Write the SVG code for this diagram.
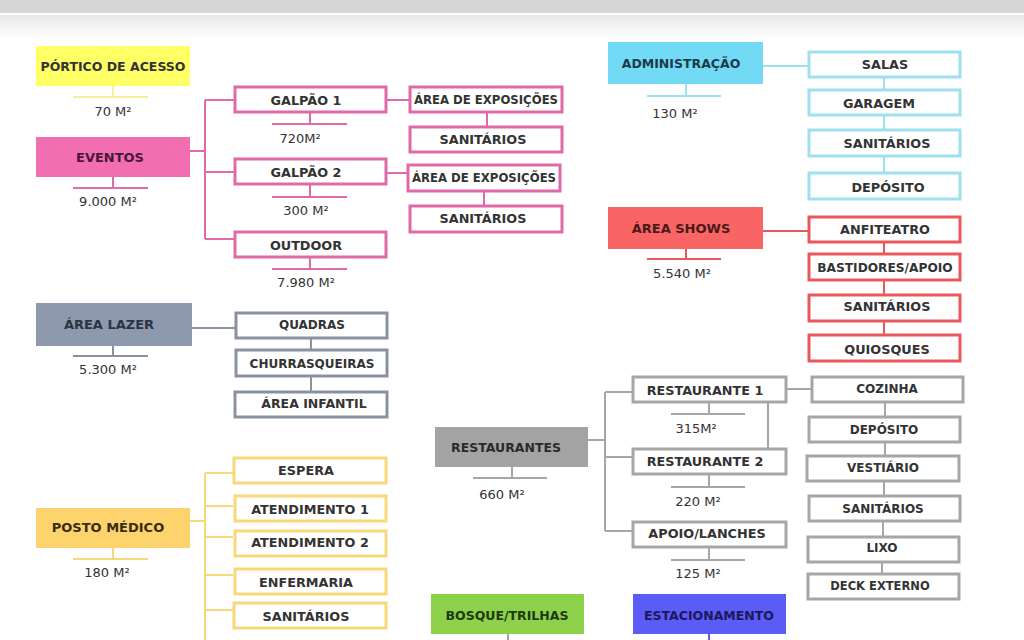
<svg xmlns="http://www.w3.org/2000/svg" width="1024" height="640" viewBox="0 0 1024 640">
<defs>
<linearGradient id="topfade" x1="0" y1="0" x2="0" y2="1">
<stop offset="0" stop-color="#e9e9e9"/>
<stop offset="1" stop-color="#ffffff"/>
</linearGradient>
</defs>
<style>
.lbl{font-family:"DejaVu Sans",Verdana,sans-serif;font-weight:bold;font-size:12.8px;text-anchor:middle;dominant-baseline:central;fill:#333}
.hd{font-family:"DejaVu Sans",Verdana,sans-serif;font-weight:bold;font-size:12.5px;text-anchor:middle;dominant-baseline:central}
.area{font-family:"DejaVu Sans",Verdana,sans-serif;font-size:13px;text-anchor:middle;fill:#333}
.sub{fill:#fff;stroke-width:3}
.pink{stroke:#e06aa8}
.blue{stroke:#9de0ef}
.red{stroke:#e9585c}
.gray{stroke:#8a929f}
.yel{stroke:#f7d87a}
.rgray{stroke:#a6a6a6}
.c{fill:none;stroke-width:2}
</style>
<rect x="0" y="0" width="1024" height="13" fill="#d6d6d6"/>
<rect x="0" y="15" width="1024" height="24" fill="url(#topfade)"/>

<g id="connectors">
<path class="c" stroke="#f5f09a" d="M113 86V97M73 97H148"/>
<path class="c" stroke="#e06aa8" d="M113 177V188M73 188H148M190 151H205M205 100V239M205 100H234M205 172H234M205 239H234M310 113V124M272 124H347M310 184V197M272 197H347M310 258V269M272 269H347M387 100H410M487 113V127M387 173H408M484 192V206"/>
<path class="c" stroke="#9de0ef" d="M686 84V96M647 96H721M763 66H808M884 77V90M884 115V130M884 156V173"/>
<path class="c" stroke="#e9585c" d="M686 249V259M647 259H721M763 231H808M884 242V254M884 280V295M884 321V335"/>
<path class="c" stroke="#8a929f" d="M113 346V356M73 356H148M192 328H235M311 339V350M311 377V392"/>
<path class="c" stroke="#f7d87a" d="M113 548V559M73 559H148M190 521H205M205 473V640M205 473H233M205 506H233M205 537H233M205 575H233M205 610H233"/>
<path class="c" stroke="#a6a6a6" d="M512 467V478M473 478H547M588 440H605M605 392V531M605 392H632M605 457H632M605 531H632M709 403V414M671 414H745M709 475V487M671 487H745M709 548V560M671 560H745M768 403V449M787 389H812M885 403V417M885 443V456M884 482V496M883 522V537M882 563V574"/>
<path class="c" stroke="#a6a6a6" d="M508 634V640"/>
<path class="c" stroke="#5b5bf0" d="M709 634V640"/>
</g>

<g id="portico">
<rect x="36" y="46" width="154" height="40" fill="#ffff66"/>
<text class="hd" x="113" y="66" fill="#333">PÓRTICO DE ACESSO</text>
<text class="area" x="113" y="116">70 M²</text>
</g>

<g id="eventos">
<rect x="36" y="137" width="154" height="40" fill="#f16fb0"/>
<text class="hd" x="110" y="157" fill="#4a1538" style="font-size:13px">EVENTOS</text>
<text class="area" x="108" y="206">9.000 M²</text>
</g>
<g id="galpao1">
<rect class="sub pink" x="235" y="87" width="151" height="25"/>
<text class="lbl" x="306" y="100">GALPÃO 1</text>
<text class="area" x="300" y="143">720M²</text>
</g>
<g id="galpao2">
<rect class="sub pink" x="235" y="159" width="151" height="25"/>
<text class="lbl" x="306" y="172">GALPÃO 2</text>
<text class="area" x="306" y="215">300 M²</text>
</g>
<g id="outdoor">
<rect class="sub pink" x="235" y="232" width="151" height="25"/>
<text class="lbl" x="306" y="245">OUTDOOR</text>
<text class="area" x="306" y="287">7.980 M²</text>
</g>
<g id="expo1">
<rect class="sub pink" x="410" y="87" width="152" height="25"/>
<text class="lbl" x="486" y="100" style="font-size:11.7px">ÁREA DE EXPOSIÇÕES</text>
</g>
<g id="sanit1">
<rect class="sub pink" x="410" y="127" width="152" height="25"/>
<text class="lbl" x="483" y="139">SANITÁRIOS</text>
</g>
<g id="expo2">
<rect class="sub pink" x="408" y="165" width="152" height="26"/>
<text class="lbl" x="484" y="178" style="font-size:11.7px">ÁREA DE EXPOSIÇÕES</text>
</g>
<g id="sanit2">
<rect class="sub pink" x="410" y="206" width="152" height="26"/>
<text class="lbl" x="483" y="218">SANITÁRIOS</text>
</g>

<g id="administracao">
<rect x="608" y="42" width="155" height="42" fill="#72daf5"/>
<text class="hd" x="681" y="63" fill="#1d3a4a">ADMINISTRAÇÃO</text>
<text class="area" x="675" y="118">130 M²</text>
</g>
<g id="salas">
<rect class="sub blue" x="809" y="52" width="151" height="25"/>
<text class="lbl" x="885" y="64">SALAS</text>
</g>
<g id="garagem">
<rect class="sub blue" x="809" y="90" width="151" height="25"/>
<text class="lbl" x="879" y="103">GARAGEM</text>
</g>
<g id="sanit-adm">
<rect class="sub blue" x="809" y="130" width="151" height="26"/>
<text class="lbl" x="887" y="143">SANITÁRIOS</text>
</g>
<g id="deposito-adm">
<rect class="sub blue" x="809" y="173" width="151" height="26"/>
<text class="lbl" x="888" y="187">DEPÓSITO</text>
</g>

<g id="area-shows">
<rect x="608" y="207" width="155" height="42" fill="#f96464"/>
<text class="hd" x="681" y="228" fill="#4a1a1a" style="font-size:13px">ÁREA SHOWS</text>
<text class="area" x="682" y="278">5.540 M²</text>
</g>
<g id="anfiteatro">
<rect class="sub red" x="809" y="217" width="151" height="25"/>
<text class="lbl" x="885" y="229">ANFITEATRO</text>
</g>
<g id="bastidores">
<rect class="sub red" x="809" y="254" width="151" height="26"/>
<text class="lbl" x="885" y="268" style="font-size:12.2px">BASTIDORES/APOIO</text>
</g>
<g id="sanit-shows">
<rect class="sub red" x="809" y="295" width="151" height="26"/>
<text class="lbl" x="887" y="306">SANITÁRIOS</text>
</g>
<g id="quiosques">
<rect class="sub red" x="809" y="335" width="151" height="26"/>
<text class="lbl" x="887" y="349">QUIOSQUES</text>
</g>

<g id="area-lazer">
<rect x="36" y="303" width="156" height="43" fill="#8e99ad"/>
<text class="hd" x="109" y="324" fill="#2b3445" style="font-size:13px">ÁREA LAZER</text>
<text class="area" x="108" y="374">5.300 M²</text>
</g>
<g id="quadras">
<rect class="sub gray" x="236" y="313" width="151" height="25"/>
<text class="lbl" x="312" y="325" style="font-size:12px">QUADRAS</text>
</g>
<g id="churrasqueiras">
<rect class="sub gray" x="236" y="350" width="151" height="26"/>
<text class="lbl" x="312" y="364" style="font-size:12px">CHURRASQUEIRAS</text>
</g>
<g id="area-infantil">
<rect class="sub gray" x="235" y="392" width="152" height="25"/>
<text class="lbl" x="314" y="403" style="font-size:12.5px">ÁREA INFANTIL</text>
</g>

<g id="posto-medico">
<rect x="36" y="508" width="154" height="40" fill="#fcd36c"/>
<text class="hd" x="108" y="527" fill="#3a2a10" style="font-size:13px">POSTO MÉDICO</text>
<text class="area" x="107" y="577">180 M²</text>
</g>
<g id="espera">
<rect class="sub yel" x="234" y="458" width="152" height="25"/>
<text class="lbl" x="306" y="470">ESPERA</text>
</g>
<g id="atendimento1">
<rect class="sub yel" x="235" y="496" width="151" height="25"/>
<text class="lbl" x="310" y="509">ATENDIMENTO 1</text>
</g>
<g id="atendimento2">
<rect class="sub yel" x="235" y="531" width="151" height="25"/>
<text class="lbl" x="310" y="542">ATENDIMENTO 2</text>
</g>
<g id="enfermaria">
<rect class="sub yel" x="235" y="569" width="151" height="25"/>
<text class="lbl" x="306" y="582">ENFERMARIA</text>
</g>
<g id="sanit-posto">
<rect class="sub yel" x="234" y="603" width="152" height="25"/>
<text class="lbl" x="306" y="616">SANITÁRIOS</text>
</g>

<g id="restaurantes">
<rect x="435" y="427" width="153" height="40" fill="#a3a3a3"/>
<text class="hd" x="506" y="447" fill="#2a2a2a">RESTAURANTES</text>
<text class="area" x="502" y="499">660 M²</text>
</g>
<g id="restaurante1">
<rect class="sub rgray" x="633" y="377" width="153" height="25"/>
<text class="lbl" x="705" y="390">RESTAURANTE 1</text>
<text class="area" x="696" y="433">315M²</text>
</g>
<g id="restaurante2">
<rect class="sub rgray" x="633" y="449" width="153" height="25"/>
<text class="lbl" x="705" y="461">RESTAURANTE 2</text>
<text class="area" x="698" y="506">220 M²</text>
</g>
<g id="apoio-lanches">
<rect class="sub rgray" x="633" y="522" width="153" height="25"/>
<text class="lbl" x="707" y="533">APOIO/LANCHES</text>
<text class="area" x="698" y="578">125 M²</text>
</g>
<g id="cozinha">
<rect class="sub rgray" x="812" y="377" width="151" height="25"/>
<text class="lbl" x="887" y="389" style="font-size:12px">COZINHA</text>
</g>
<g id="deposito-rest">
<rect class="sub rgray" x="809" y="417" width="151" height="25"/>
<text class="lbl" x="884" y="430" style="font-size:12px">DEPÓSITO</text>
</g>
<g id="vestiario">
<rect class="sub rgray" x="807" y="456" width="152" height="25"/>
<text class="lbl" x="883" y="468" style="font-size:12px">VESTIÁRIO</text>
</g>
<g id="sanit-rest">
<rect class="sub rgray" x="809" y="496" width="151" height="25"/>
<text class="lbl" x="883" y="509" style="font-size:12px">SANITÁRIOS</text>
</g>
<g id="lixo">
<rect class="sub rgray" x="808" y="537" width="151" height="25"/>
<text class="lbl" x="882" y="548" style="font-size:12px">LIXO</text>
</g>
<g id="deck-externo">
<rect class="sub rgray" x="808" y="574" width="151" height="25"/>
<text class="lbl" x="880" y="586" style="font-size:11.5px">DECK EXTERNO</text>
</g>

<g id="bosque-trilhas">
<rect x="431" y="594" width="153" height="40" fill="#8dd14b"/>
<text class="hd" x="507" y="615" fill="#1f3a10">BOSQUE/TRILHAS</text>
</g>
<g id="estacionamento">
<rect x="633" y="594" width="153" height="40" fill="#5b5bf5"/>
<text class="hd" x="709" y="615" fill="#1a1a5a">ESTACIONAMENTO</text>
</g>
</svg>
